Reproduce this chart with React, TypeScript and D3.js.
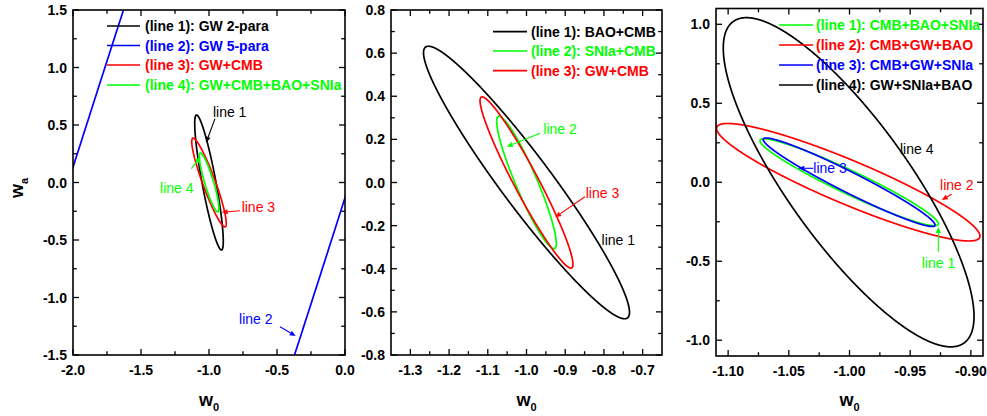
import React from 'react';
import * as d3 from 'd3';

// ---------------- data ----------------
// Panel 1
const p1Legend = ['(line 1): GW 2-para', '(line 2): GW 5-para', '(line 3): GW+CMB', '(line 4): GW+CMB+BAO+SNIa'];
const p1Ellipses = [
  { cx: -1.0, cy: 0.0, sx: 0.105, sy: 0.587, rho: -0.87 },
  { cx: -1.0, cy: 0.0, a: 20, b: 1.0, angle: 74.9 },
  { cx: -1.0, cy: 0.0, sx: 0.127, sy: 0.386, rho: -0.92 },
  { cx: -0.999, cy: 0.0, sx: 0.072, sy: 0.256, rho: -0.88 },
];
const p1XTicks = [-2.0, -1.5, -1.0, -0.5, 0.0];
const p1XTickLabels = ['-2.0', '-1.5', '-1.0', '-0.5', '0.0'];
const p1XMinor = [-1.75, -1.25, -0.75, -0.25];
const p1YTicks = [-1.5, -1.0, -0.5, 0.0, 0.5, 1.0, 1.5];
const p1YTickLabels = ['-1.5', '-1.0', '-0.5', '0.0', '0.5', '1.0', '1.5'];
const p1YMinor = [-1.25, -0.75, -0.25, 0.25, 0.75, 1.25];
const p1Notes = [
  { text: 'line 1', x: -0.971, y: 0.57, arrow: [-0.956, 0.555, -1.022, 0.345] },
  { text: 'line 2', x: -0.779, y: -1.23, arrow: [-0.478, -1.254, -0.3625, -1.335] },
  { text: 'line 3', x: -0.76, y: -0.254, arrow: [-0.772, -0.245, -0.907, -0.259] },
  { text: 'line 4', x: -1.36, y: -0.091, arrow: [-1.13, 0.12, -1.062, 0.225] },
];

// Panel 2
const p2Legend = ['(line 1): BAO+CMB', '(line 2): SNIa+CMB', '(line 3): GW+CMB'];
const p2Ellipses = [
  { cx: -1.0, cy: 0.0, sx: 0.266, sy: 0.632, rho: -0.952 },
  { cx: -1.0, cy: 0.0, sx: 0.077, sy: 0.307, rho: -0.92 },
  { cx: -1.0, cy: 0.0, sx: 0.12, sy: 0.397, rho: -0.955 },
];
const p2XTicks = [-1.3, -1.2, -1.1, -1.0, -0.9, -0.8, -0.7];
const p2XTickLabels = ['-1.3', '-1.2', '-1.1', '-1.0', '-0.9', '-0.8', '-0.7'];
const p2XMinor = [-1.25, -1.15, -1.05, -0.95, -0.85, -0.75];
const p2YTicks = [-0.8, -0.6, -0.4, -0.2, 0.0, 0.2, 0.4, 0.6, 0.8];
const p2YTickLabels = ['-0.8', '-0.6', '-0.4', '-0.2', '0.0', '0.2', '0.4', '0.6', '0.8'];
const p2YMinor = [-0.7, -0.5, -0.3, -0.1, 0.1, 0.3, 0.5, 0.7];
const p2Notes = [
  { text: 'line 1', x: -0.806, y: -0.29, arrow: null },
  { text: 'line 2', x: -0.9566, y: 0.2235, arrow: [-0.965, 0.228, -1.051, 0.166] },
  { text: 'line 3', x: -0.847, y: -0.0706, arrow: [-0.849, -0.066, -0.926, -0.1615] },
];

// Panel 3
const p3Legend = ['(line 1): CMB+BAO+SNIa', '(line 2): CMB+GW+BAO', '(line 3): CMB+GW+SNIa', '(line 4): GW+SNIa+BAO'];
const p3Ellipses = [
  { cx: -1.0003, cy: 0.0, sx: 0.0735, sy: 0.275, rho: -0.955 },
  { cx: -1.001, cy: 0.0, sx: 0.1085, sy: 0.372, rho: -0.915 },
  { cx: -1.0003, cy: 0.0, sx: 0.0708, sy: 0.28, rho: -0.965 },
  { cx: -1.0007, cy: 0.0, sx: 0.1033, sy: 1.042, rho: -0.815 },
];
const p3XTicks = [-1.1, -1.05, -1.0, -0.95, -0.9];
const p3XTickLabels = ['-1.10', '-1.05', '-1.00', '-0.95', '-0.90'];
const p3XMinor = [-1.075, -1.025, -0.975, -0.925];
const p3YTicks = [-1.0, -0.5, 0.0, 0.5, 1.0];
const p3YTickLabels = ['-1.0', '-0.5', '0.0', '0.5', '1.0'];
const p3YMinor = [-0.75, -0.25, 0.25, 0.75];
const p3Notes = [
  { text: 'line 1', x: -0.9405, y: -0.545, arrow: [-0.9268, -0.44, -0.9268, -0.283] },
  { text: 'line 2', x: -0.9254, y: -0.049, arrow: [-0.9158, -0.0763, -0.924, -0.1124] },
  { text: 'line 3', x: -1.0298, y: 0.0566, arrow: [-1.0298, 0.0883, -1.0422, 0.0883] },
  { text: 'line 4', x: -0.9584, y: 0.177, arrow: null },
];

// ---------------- styles ----------------
const BLACK = '#000000';
const BLUE = '#0000ff';
const RED = '#ff0000';
const GREEN = '#00ff00';
const p1Colors = [BLACK, BLUE, RED, GREEN];
const p2Colors = [BLACK, GREEN, RED];
const p3Colors = [GREEN, RED, BLUE, BLACK];

const FONT = "'Liberation Sans', Arial, Helvetica, sans-serif";

type Ell = { cx: number; cy: number; sx?: number; sy?: number; rho?: number; a?: number; b?: number; angle?: number };

function ellipsePoints(e: Ell): [number, number][] {
  const n = 2400;
  const pts: [number, number][] = [];
  for (let i = 0; i <= n; i++) {
    const t = (2 * Math.PI * i) / n;
    if (e.a !== undefined) {
      const th = ((e.angle as number) * Math.PI) / 180;
      const u = e.a * Math.cos(t);
      const v = (e.b as number) * Math.sin(t);
      pts.push([e.cx + u * Math.cos(th) - v * Math.sin(th), e.cy + u * Math.sin(th) + v * Math.cos(th)]);
    } else {
      const phi = Math.acos(e.rho as number);
      pts.push([e.cx + (e.sx as number) * Math.cos(t), e.cy + (e.sy as number) * Math.cos(t - phi)]);
    }
  }
  return pts;
}

function Arrow({ x1, y1, x2, y2, color }: any) {
  const ang = Math.atan2(y2 - y1, x2 - x1);
  const L = 6, Wd = 2.6;
  const bx = x2 - L * Math.cos(ang), by = y2 - L * Math.sin(ang);
  const px = -Math.sin(ang) * Wd, py = Math.cos(ang) * Wd;
  return (
    <g>
      <line x1={x1} y1={y1} x2={bx} y2={by} stroke={color} strokeWidth={1.1} />
      <path d={`M${x2},${y2}L${bx + px},${by + py}L${bx - px},${by - py}Z`} fill={color} />
    </g>
  );
}

function Panel(props: any) {
  const { id, box, xDomain, yDomain, xTicks, xTickLabels, xMinor, yTicks, yTickLabels, yMinor,
    ellipses, colors, legend, leg, notes, noteColors } = props;
  const xs = d3.scaleLinear().domain(xDomain).range([box.x0, box.x1]);
  const ys = d3.scaleLinear().domain(yDomain).range([box.y1, box.y0]);
  const line = d3.line<[number, number]>().x(d => xs(d[0])).y(d => ys(d[1]));
  const MAJ = 6, MIN = 3.8;
  const tickStroke = 1.3;
  return (
    <g>
      <defs>
        <clipPath id={`clip-${id}`}>
          <rect x={box.x0} y={box.y0} width={box.x1 - box.x0} height={box.y1 - box.y0} />
        </clipPath>
      </defs>
      {xTicks.map((v: number, i: number) => (
        <g key={`xt${i}`}>
          <line x1={xs(v)} x2={xs(v)} y1={box.y1} y2={box.y1 - MAJ} stroke={BLACK} strokeWidth={tickStroke} />
          <line x1={xs(v)} x2={xs(v)} y1={box.y0} y2={box.y0 + MAJ} stroke={BLACK} strokeWidth={tickStroke} />
          <text x={xs(v)} y={box.y1 + 20} textAnchor="middle" fontSize={14} fontWeight="bold" fontFamily={FONT}>{xTickLabels[i]}</text>
        </g>
      ))}
      {xMinor.map((v: number, i: number) => (
        <g key={`xm${i}`}>
          <line x1={xs(v)} x2={xs(v)} y1={box.y1} y2={box.y1 - MIN} stroke={BLACK} strokeWidth={tickStroke} />
          <line x1={xs(v)} x2={xs(v)} y1={box.y0} y2={box.y0 + MIN} stroke={BLACK} strokeWidth={tickStroke} />
        </g>
      ))}
      {yTicks.map((v: number, i: number) => (
        <g key={`yt${i}`}>
          <line x1={box.x0} x2={box.x0 + MAJ} y1={ys(v)} y2={ys(v)} stroke={BLACK} strokeWidth={tickStroke} />
          <line x1={box.x1} x2={box.x1 - MAJ} y1={ys(v)} y2={ys(v)} stroke={BLACK} strokeWidth={tickStroke} />
          <text x={box.x0 - 6} y={ys(v)} dy="0.36em" textAnchor="end" fontSize={14} fontWeight="bold" fontFamily={FONT}>{yTickLabels[i]}</text>
        </g>
      ))}
      {yMinor.map((v: number, i: number) => (
        <g key={`ym${i}`}>
          <line x1={box.x0} x2={box.x0 + MIN} y1={ys(v)} y2={ys(v)} stroke={BLACK} strokeWidth={tickStroke} />
          <line x1={box.x1} x2={box.x1 - MIN} y1={ys(v)} y2={ys(v)} stroke={BLACK} strokeWidth={tickStroke} />
        </g>
      ))}
      <g clipPath={`url(#clip-${id})`}>
        {ellipses.map((e: Ell, i: number) => (
          <path key={`e${i}`} d={line(ellipsePoints(e)) as string} fill="none" stroke={colors[i]} strokeWidth={1.7} />
        ))}
      </g>
      {legend.map((t: string, i: number) => (
        <g key={`lg${i}`}>
          <line x1={leg.lx0} x2={leg.lx1} y1={leg.rows[i]} y2={leg.rows[i]} stroke={colors[i]} strokeWidth={1.7} />
          <text x={leg.tx} y={leg.rows[i]} dy="0.36em" fontSize={14} fontWeight="bold" fill={colors[i]} fontFamily={FONT}>{t}</text>
        </g>
      ))}
      {notes.map((n: any, i: number) => (
        <g key={`n${i}`}>
          <text x={xs(n.x)} y={ys(n.y)} fontSize={14} fill={noteColors[i]} fontFamily={FONT}>{n.text}</text>
          {n.arrow && (
            <Arrow x1={xs(n.arrow[0])} y1={ys(n.arrow[1])} x2={xs(n.arrow[2])} y2={ys(n.arrow[3])} color={noteColors[i]} />
          )}
        </g>
      ))}
      <rect x={box.x0} y={box.y0} width={box.x1 - box.x0} height={box.y1 - box.y0} fill="none" stroke={BLACK} strokeWidth={1.6} />
      <text x={(box.x0 + box.x1) / 2} y={406} textAnchor="middle" fontSize={18} fontWeight="bold" fontFamily={FONT}>
        w<tspan fontSize={11} dy={5}>0</tspan>
      </text>
    </g>
  );
}

export default function App() {
  return (
    <div style={{ position: 'absolute', left: 0, top: 0, width: 987, height: 416, background: '#fff' }}>
      <svg width={987} height={416} viewBox="0 0 987 416" style={{ display: 'block' }}>
        <rect x={0} y={0} width={987} height={416} fill="#fff" />
        <Panel id="p1" box={{ x0: 73, x1: 345, y0: 10, y1: 355 }} xDomain={[-2, 0]} yDomain={[-1.5, 1.5]}
          xTicks={p1XTicks} xTickLabels={p1XTickLabels} xMinor={p1XMinor}
          yTicks={p1YTicks} yTickLabels={p1YTickLabels} yMinor={p1YMinor}
          ellipses={p1Ellipses} colors={p1Colors} legend={p1Legend}
          leg={{ lx0: 107, lx1: 140, tx: 145, rows: [26, 45.5, 65, 85] }}
          notes={p1Notes} noteColors={[BLACK, BLUE, RED, GREEN]} />
        <Panel id="p2" box={{ x0: 391, x1: 662, y0: 10, y1: 355 }} xDomain={[-1.35, -0.65]} yDomain={[-0.8, 0.8]}
          xTicks={p2XTicks} xTickLabels={p2XTickLabels} xMinor={p2XMinor}
          yTicks={p2YTicks} yTickLabels={p2YTickLabels} yMinor={p2YMinor}
          ellipses={p2Ellipses} colors={p2Colors} legend={p2Legend}
          leg={{ lx0: 493, lx1: 527, tx: 531, rows: [31.7, 51, 70.7] }}
          notes={p2Notes} noteColors={[BLACK, GREEN, RED]} />
        <Panel id="p3" box={{ x0: 716, x1: 983, y0: 8.5, y1: 356 }} xDomain={[-1.11, -0.89]} yDomain={[-1.1, 1.1]}
          xTicks={p3XTicks} xTickLabels={p3XTickLabels} xMinor={p3XMinor}
          yTicks={p3YTicks} yTickLabels={p3YTickLabels} yMinor={p3YMinor}
          ellipses={p3Ellipses} colors={p3Colors} legend={p3Legend}
          leg={{ lx0: 779, lx1: 813, tx: 816, rows: [25, 45, 65, 85] }}
          notes={p3Notes} noteColors={[GREEN, RED, BLUE, BLACK]} />
        <text transform="translate(23,188) rotate(-90)" textAnchor="middle" fontSize={18} fontWeight="bold" fontFamily={FONT}>
          w<tspan fontSize={11} dy={5}>a</tspan>
        </text>
      </svg>
    </div>
  );
}
